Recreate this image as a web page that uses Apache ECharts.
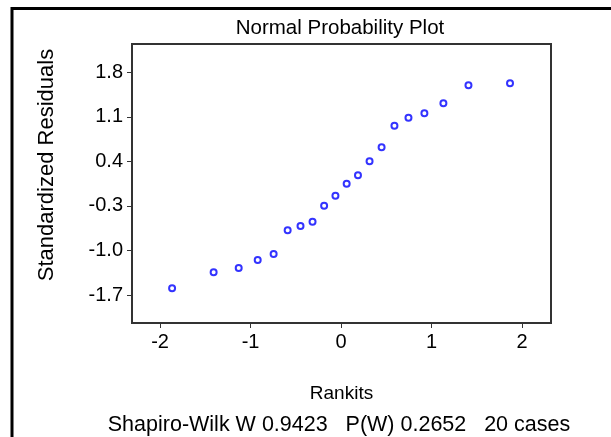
<!DOCTYPE html>
<html>
<head>
<meta charset="utf-8">
<script src="https://cdn.jsdelivr.net/npm/echarts@6/dist/echarts.min.js"></script>
<style>
html,body{margin:0;padding:0;background:#fff;}
#chart{width:611px;height:437px;}
</style>
</head>
<body>
<div id="chart"></div>
<script>
// Data
const rankits = [-1.867, -1.408, -1.131, -0.921, -0.745, -0.590, -0.448, -0.315, -0.187, -0.062,
                  0.062,  0.187,  0.315,  0.448,  0.590,  0.745,  0.921,  1.131,  1.408,  1.867];
const residuals = [-1.595, -1.344, -1.276, -1.150, -1.056, -0.684, -0.616, -0.548, -0.297, -0.140,
                    0.049,  0.181,  0.401,  0.621,  0.960,  1.086,  1.155,  1.312,  1.595,  1.627];
const yTicks = [-1.7, -1.0, -0.3, 0.4, 1.1, 1.8];
const xTicks = [-2, -1, 0, 1, 2];
const titleText = 'Normal Probability Plot';
const xName = 'Rankits';
const yName = 'Standardized Residuals';
const footerText = 'Shapiro-Wilk W 0.9423   P(W) 0.2652   20 cases';

const FONT = '"Liberation Sans", Arial, sans-serif';
const chart = echarts.init(document.getElementById('chart'), null, {renderer: 'canvas'});
const points = rankits.map((x, i) => [x, residuals[i]]);

chart.setOption({
  animation: false,
  backgroundColor: '#fff',
  textStyle: {fontFamily: FONT},
  title: [
    {text: titleText, left: 335, top: 13, textAlign: 'center',
     textStyle: {fontSize: 20.5, fontWeight: 'normal', color: '#000', fontFamily: FONT}},
    {text: footerText, left: 334, top: 409, textAlign: 'center',
     textStyle: {fontSize: 21.5, fontWeight: 'normal', color: '#000', fontFamily: FONT}}
  ],
  graphic: [
    {type: 'line', shape: {x1: 12, y1: 8.5, x2: 611, y2: 8.5}, style: {stroke: '#000', lineWidth: 3}},
    {type: 'line', shape: {x1: 12, y1: 7, x2: 12, y2: 437}, style: {stroke: '#000', lineWidth: 3}},
    {type: 'text', x: 47, y: 165, rotation: Math.PI / 2,
     style: {text: yName, fill: '#000', font: '22px "Liberation Sans", Arial, sans-serif',
             align: 'center', verticalAlign: 'middle'}}
  ],
  grid: {left: 132, top: 44, right: 60, bottom: 114, show: true,
         borderColor: '#333', borderWidth: 2, backgroundColor: '#fff'},
  xAxis: {
    type: 'value', min: -2.31, max: 2.32,
    name: xName, nameLocation: 'middle', nameGap: 61,
    nameTextStyle: {fontSize: 19, color: '#000', fontFamily: FONT},
    axisLine: {show: true, onZero: false, lineStyle: {color: '#333', width: 2}},
    splitLine: {show: false},
    axisTick: {show: true, length: 5, lineStyle: {color: '#333', width: 1}, customValues: xTicks},
    axisLabel: {customValues: xTicks, fontSize: 20, color: '#000', margin: 9, fontFamily: FONT,
                formatter: v => String(v)}
  },
  yAxis: {
    type: 'value', min: -2.14, max: 2.244,
    axisLine: {show: true, onZero: false, lineStyle: {color: '#333', width: 2}},
    splitLine: {show: false},
    axisTick: {show: true, length: 5, lineStyle: {color: '#333', width: 1}, customValues: yTicks},
    axisLabel: {customValues: yTicks, fontSize: 20, color: '#000', margin: 9, fontFamily: FONT,
                formatter: v => v.toFixed(1)}
  },
  series: [{
    type: 'scatter',
    data: points,
    symbol: 'emptyCircle',
    symbolSize: 6,
    itemStyle: {color: '#0000ff', borderColor: '#0000ff', borderWidth: 2}
  }]
});
</script>
</body>
</html>
